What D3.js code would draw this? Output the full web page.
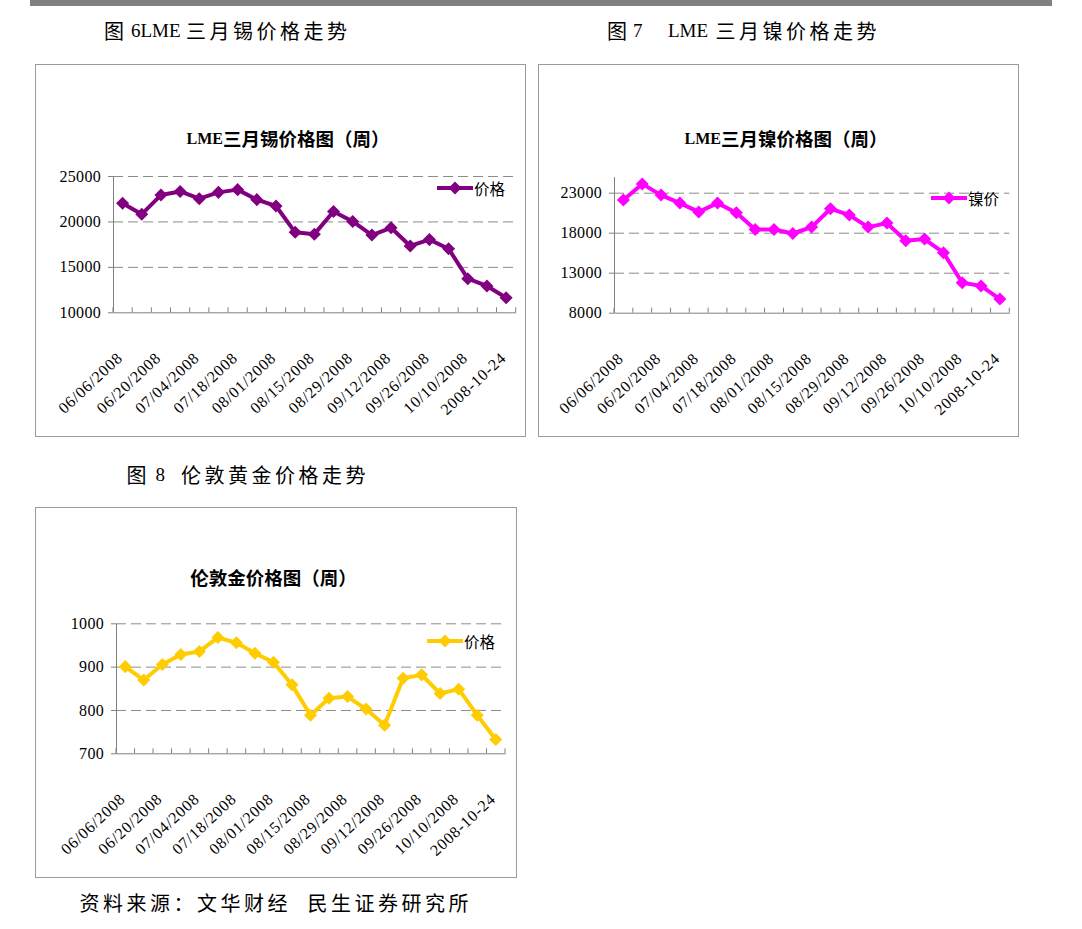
<!DOCTYPE html>
<html>
<head>
<meta charset="utf-8">
<script src="https://cdn.jsdelivr.net/npm/d3@7"></script>
<style>
    html, body { margin: 0; padding: 0; background: #ffffff; }
    svg text   { white-space: pre; }
</style>
</head>
<body>
<svg id="page" width="1082" height="929"></svg>
<script>
// weekly categories (Friday closes), every other one gets a label
const dates = ["06/06/2008", "06/13/2008", "06/20/2008", "06/27/2008", "07/04/2008",
               "07/11/2008", "07/18/2008", "07/25/2008", "08/01/2008", "08/08/2008",
               "08/15/2008", "08/22/2008", "08/29/2008", "09/05/2008", "09/12/2008",
               "09/19/2008", "09/26/2008", "10/03/2008", "10/10/2008", "10/17/2008",
               "2008-10-24"];

const tickDates = ["06/06/2008", "06/20/2008", "07/04/2008", "07/18/2008", "08/01/2008",
                   "08/15/2008", "08/29/2008", "09/12/2008", "09/26/2008", "10/10/2008",
                   "2008-10-24"];

const tinPrices    = [22000, 20800, 22900, 23300, 22500, 23200, 23500, 22400, 21700, 18800,
                      18600, 21100, 20000, 18500, 19300, 17300, 18000, 17000, 13700, 12900,
                      11600];

const nickelPrices = [22100, 24100, 22700, 21700, 20600, 21700, 20500, 18400, 18400, 17900,
                      18700, 21000, 20200, 18700, 19200, 17000, 17200, 15500, 11750, 11350,
                      9700];

const goldPrices   = [900, 869, 905, 928, 935, 967, 955, 931, 910, 858,
                      788, 827, 831, 802, 765, 873, 881, 838, 848, 788,
                      732];

const tinTicks    = [10000, 15000, 20000, 25000];
const nickelTicks = [8000, 13000, 18000, 23000];
const goldTicks   = [700, 800, 900, 1000];

const LATIN = "'Liberation Serif', 'Noto Sans CJK SC', serif";
const CJK   = "'Noto Sans CJK SC', 'Liberation Serif', sans-serif";
const AXIS_GREY = "#808080";

const svg = d3.select("#page");

class PriceChart
{
    constructor(config)
    {
        this.config = config;
        this.initVis();
    }

    initVis()
    {
        let vis = this;
        let c   = vis.config;

        vis.g = svg.append("g");

        vis.x = d3.scaleBand()
            .domain(dates)
            .range([c.left, c.right]);

        vis.y = d3.scaleLinear()
            .domain(c.domain)
            .range([c.bottom, c.top]);

        vis.render();
    }

    render()
    {
        let vis = this;
        let c   = vis.config;
        const x = vis.x;
        const y = vis.y;
        const cx = (d, i) => x(dates[i]) + x.bandwidth() / 2;

        // outer frame
        vis.g.append("rect")
            .attr("x", c.frame[0] + 0.5)
            .attr("y", c.frame[1] + 0.5)
            .attr("width",  c.frame[2])
            .attr("height", c.frame[3])
            .attr("fill", "none")
            .attr("stroke", "#9a9a9a");

        // title
        const title = vis.g.append("text")
            .attr("x", c.titleX)
            .attr("y", c.titleY)
            .attr("text-anchor", "middle")
            .attr("dominant-baseline", "central")
            .attr("font-weight", "bold")
            .attr("fill", "#000");

        if (c.titleLatin)
        {
            title.append("tspan")
                .attr("font-family", LATIN)
                .attr("font-size", 16)
                .text(c.titleLatin);
        }

        title.append("tspan")
            .attr("font-family", CJK)
            .attr("font-size", 18.5)
            .text(c.title);

        // dashed gridlines (none on the bottom value)
        vis.g.append("g")
            .attr("transform", `translate(${c.left},0)`)
            .call(d3.axisLeft(y)
                .tickValues(c.ticks.slice(1))
                .tickSize(-(c.right - c.left))
                .tickFormat(""))
            .call(g => g.select(".domain").remove())
            .call(g => g.selectAll(".tick line")
                .attr("stroke", "#8c8c8c")
                .attr("stroke-dasharray", "10,5"));

        // y axis
        vis.g.append("g")
            .attr("transform", `translate(${c.left},0)`)
            .call(d3.axisLeft(y)
                .tickValues(c.ticks)
                .tickSize(5)
                .tickSizeOuter(0)
                .tickPadding(7)
                .tickFormat(d3.format("d")))
            .call(g => g.select(".domain").attr("stroke", AXIS_GREY))
            .call(g => g.selectAll(".tick line").attr("stroke", AXIS_GREY))
            .call(g => g.selectAll(".tick text")
                .attr("font-family", LATIN)
                .attr("font-size", 16)
                .attr("letter-spacing", 0.3)
                .attr("fill", "#000"));

        // x axis with rotated labels
        const gx = vis.g.append("g")
            .attr("transform", `translate(0,${c.bottom})`)
            .call(d3.axisBottom(x)
                .tickValues(tickDates)
                .tickSize(0)
                .tickSizeOuter(0));

        gx.select(".domain").attr("stroke", AXIS_GREY);

        gx.selectAll(".tick text")
            .attr("y", 0)
            .attr("dy", 0)
            .attr("text-anchor", "end")
            .attr("transform", "translate(1,47) rotate(-43)")
            .attr("font-family", LATIN)
            .attr("font-size", 16)
            .attr("letter-spacing", 0.8)
            .attr("fill", "#000");

        // category boundary ticks, pointing into the plot
        const bounds = dates.map(d => x(d)).concat([c.right]);

        gx.selectAll(".boundary").data(bounds)
            .join("line")
            .attr("class", "boundary")
            .attr("x1", d => d)
            .attr("x2", d => d)
            .attr("y1", 0)
            .attr("y2", -5)
            .attr("stroke", AXIS_GREY);

        // the series
        const line = d3.line()
            .x(cx)
            .y(d => y(d));

        vis.g.append("path")
            .datum(c.values)
            .attr("d", line)
            .attr("fill", "none")
            .attr("stroke", c.color)
            .attr("stroke-width", 4)
            .attr("stroke-linejoin", "round");

        const diamond = d3.symbol(d3.symbolSquare, 85);

        vis.g.selectAll(".marker").data(c.values)
            .join("path")
            .attr("class", "marker")
            .attr("d", diamond)
            .attr("transform", (d, i) => `translate(${cx(d, i)},${y(d)}) rotate(45)`)
            .attr("fill", c.color);

        // legend
        const lg = vis.g.append("g")
            .attr("transform", `translate(${c.legend[0]},${c.legend[1]})`);

        lg.append("line")
            .attr("x1", 0)
            .attr("x2", 36)
            .attr("stroke", c.color)
            .attr("stroke-width", 4);

        lg.append("path")
            .attr("d", diamond)
            .attr("transform", "translate(18,0) rotate(45)")
            .attr("fill", c.color);

        lg.append("text")
            .attr("x", 37)
            .attr("dominant-baseline", "central")
            .attr("font-family", CJK)
            .attr("font-size", 15.5)
            .attr("fill", "#000")
            .text(c.seriesName);
    }
}

// captions: pieces of text placed along one line
function drawCaption(pieces, y)
{
    pieces.forEach(p =>
    {
        svg.append("text")
            .attr("x", p.x)
            .attr("y", y)
            .attr("dominant-baseline", "central")
            .attr("font-family",    p.latin ? LATIN : CJK)
            .attr("font-size",      p.latin ? 19 : 20)
            .attr("letter-spacing", p.latin ? 0 : 3.5)
            .attr("fill", "#000")
            .text(p.text);
    });
}

// grey rule along the top of the page
svg.append("rect")
    .attr("x", 30)
    .attr("y", 0)
    .attr("width", 1022)
    .attr("height", 6)
    .attr("fill", "#808080");

drawCaption([{text: "图", x: 104}, {text: "6LME", x: 131, latin: true}, {text: "三月锡价格走势", x: 186}], 30);
drawCaption([{text: "图", x: 607}, {text: "7", x: 633, latin: true}, {text: "LME", x: 668, latin: true}, {text: "三月镍价格走势", x: 715.5}], 30);
drawCaption([{text: "图", x: 126.5}, {text: "8", x: 155.5, latin: true}, {text: "伦敦黄金价格走势", x: 181}], 474);
drawCaption([{text: "资料来源：文华财经", x: 79.5}, {text: "民生证券研究所", x: 307.5}], 902);

new PriceChart({
    frame      : [35, 64, 490, 372],
    left       : 113,
    right      : 515.7,
    top        : 176,
    bottom     : 312.3,
    domain     : [10000, 25000],
    ticks      : tinTicks,
    values     : tinPrices,
    color      : "#800080",
    titleLatin : "LME",
    title      : "三月锡价格图（周）",
    titleX     : 288,
    titleY     : 138,
    seriesName : "价格",
    legend     : [437, 188]
});

new PriceChart({
    frame      : [538, 64, 480, 372],
    left       : 614,
    right      : 1009.3,
    top        : 176.7,
    bottom     : 312.7,
    domain     : [8000, 25000],
    ticks      : nickelTicks,
    values     : nickelPrices,
    color      : "#ff00ff",
    titleLatin : "LME",
    title      : "三月镍价格图（周）",
    titleX     : 786,
    titleY     : 138,
    seriesName : "镍价",
    legend     : [931, 198]
});

new PriceChart({
    frame      : [35, 507, 481, 370],
    left       : 116,
    right      : 505,
    top        : 623.3,
    bottom     : 753.3,
    domain     : [700, 1000],
    ticks      : goldTicks,
    values     : goldPrices,
    color      : "#ffcc00",
    titleLatin : null,
    title      : "伦敦金价格图（周）",
    titleX     : 273.5,
    titleY     : 577,
    seriesName : "价格",
    legend     : [427, 641]
});
</script>
</body>
</html>
